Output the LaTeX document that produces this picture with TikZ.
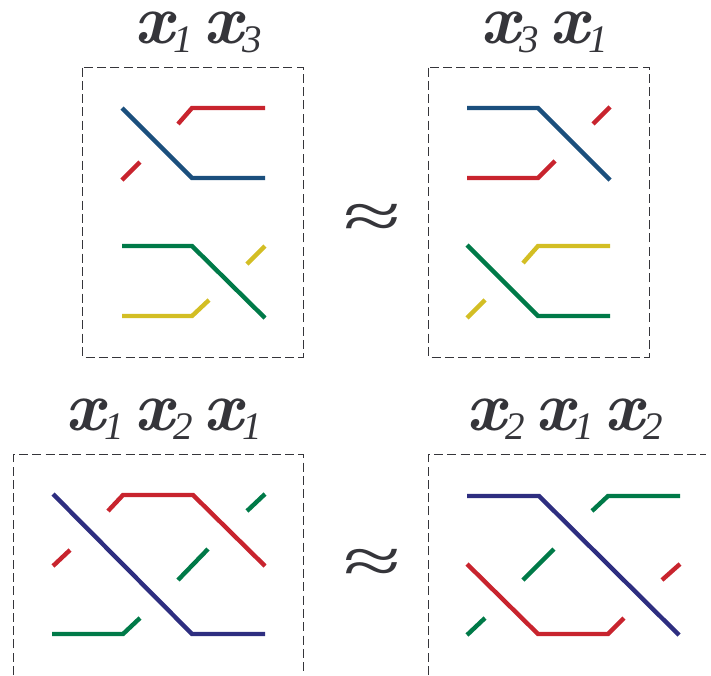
\documentclass[tikz,border=0pt]{standalone}
\usepackage{fontspec}
\usepackage{xcolor}
\usetikzlibrary{positioning}
\newfontfamily\eqfont{Liberation Serif}
\definecolor{ink}{HTML}{35353A}
\definecolor{teal}{HTML}{1B4F7D}
\definecolor{crimson}{HTML}{C8242E}
\definecolor{forest}{HTML}{007A48}
\definecolor{mustard}{HTML}{D3BE24}
\definecolor{indigo}{HTML}{2E2E80}
\newcommand{\gen}[1]{\makebox[69pt][l]{{\bfseries\itshape\fontsize{70}{70}\selectfont x}\raisebox{-9pt}{\eqfont\itshape\fontsize{39}{39}\selectfont #1}}}
\tikzset{
  frame/.style={draw=ink, line width=1pt, dash pattern=on 9pt off 4.3pt},
  strand/.style={line width=4.4pt},
  word/.style={text=ink, anchor=base west, inner sep=0pt},
  equiv/.style={text=ink, font=\eqfont\fontsize{78}{78}\selectfont, inner sep=0pt, xscale=1.35, yscale=0.85},
}
\begin{document}
\begin{tikzpicture}[x=1pt,y=-1pt]
  \useasboundingbox (0,0) rectangle (711,675);

  % top left
  \node[word] (wordA) at (134,43) {\gen{1}\gen{3}};
  \draw[frame] (82.5,67.5) rectangle (303.5,357);
  \draw[strand, teal] (122,108) -- (192,178) -- (265,178);
  \draw[strand, crimson] (265,108) -- (192,108) -- (178,124);
  \draw[strand, crimson] (140,162) -- (122,180);
  \draw[strand, forest] (122,246) -- (192,246) -- (265,318);
  \draw[strand, mustard] (122,316) -- (192,316) -- (209,300);
  \draw[strand, mustard] (247,264) -- (265,246);

  % top right
  \node[word] (wordB) at (480,43) {\gen{3}\gen{1}};
  \draw[frame] (428.5,67.5) rectangle (649.5,357);
  \draw[strand, teal] (467,108) -- (538,108) -- (610,180);
  \draw[strand, crimson] (467,178) -- (538,178) -- (555,161);
  \draw[strand, crimson] (593,124) -- (610,107);
  \draw[strand, forest] (467,245) -- (538,316) -- (610,316);
  \draw[strand, mustard] (610,246) -- (538,246) -- (523,263);
  \draw[strand, mustard] (485,300) -- (467,318);

  \node[equiv] (eqA) at (372,221) {≈};

  % bottom left
  \node[word] (wordC) at (65,430) {\gen{1}\gen{2}\gen{1}};
  \draw[frame] (13.5,675) -- (13.5,454.5) -- (303.5,454.5) -- (303.5,675);
  \draw[strand, indigo] (53,494) -- (192,634) -- (265,634);
  \draw[strand, crimson] (265,566) -- (193,495) -- (123,495) -- (108,511);
  \draw[strand, crimson] (70,550) -- (53,566);
  \draw[strand, forest] (265,494) -- (247,511);
  \draw[strand, forest] (208,549) -- (178,580);
  \draw[strand, forest] (140,618) -- (123,634) -- (52,634);

  % bottom right
  \node[word] (wordD) at (466,430) {\gen{2}\gen{1}\gen{2}};
  \draw[frame] (428.5,675) -- (428.5,454.5) -- (706,454.5);
  \draw[strand, indigo] (467,496) -- (539,496) -- (679,635);
  \draw[strand, forest] (680,496) -- (608,496) -- (592,511);
  \draw[strand, forest] (554,549) -- (523,580);
  \draw[strand, forest] (485,618) -- (467,635);
  \draw[strand, crimson] (467,564) -- (538,634) -- (608,634) -- (624,618);
  \draw[strand, crimson] (662,580) -- (680,564);

  \node[equiv] (eqB) at (372,566) {≈};
\end{tikzpicture}
\end{document}
